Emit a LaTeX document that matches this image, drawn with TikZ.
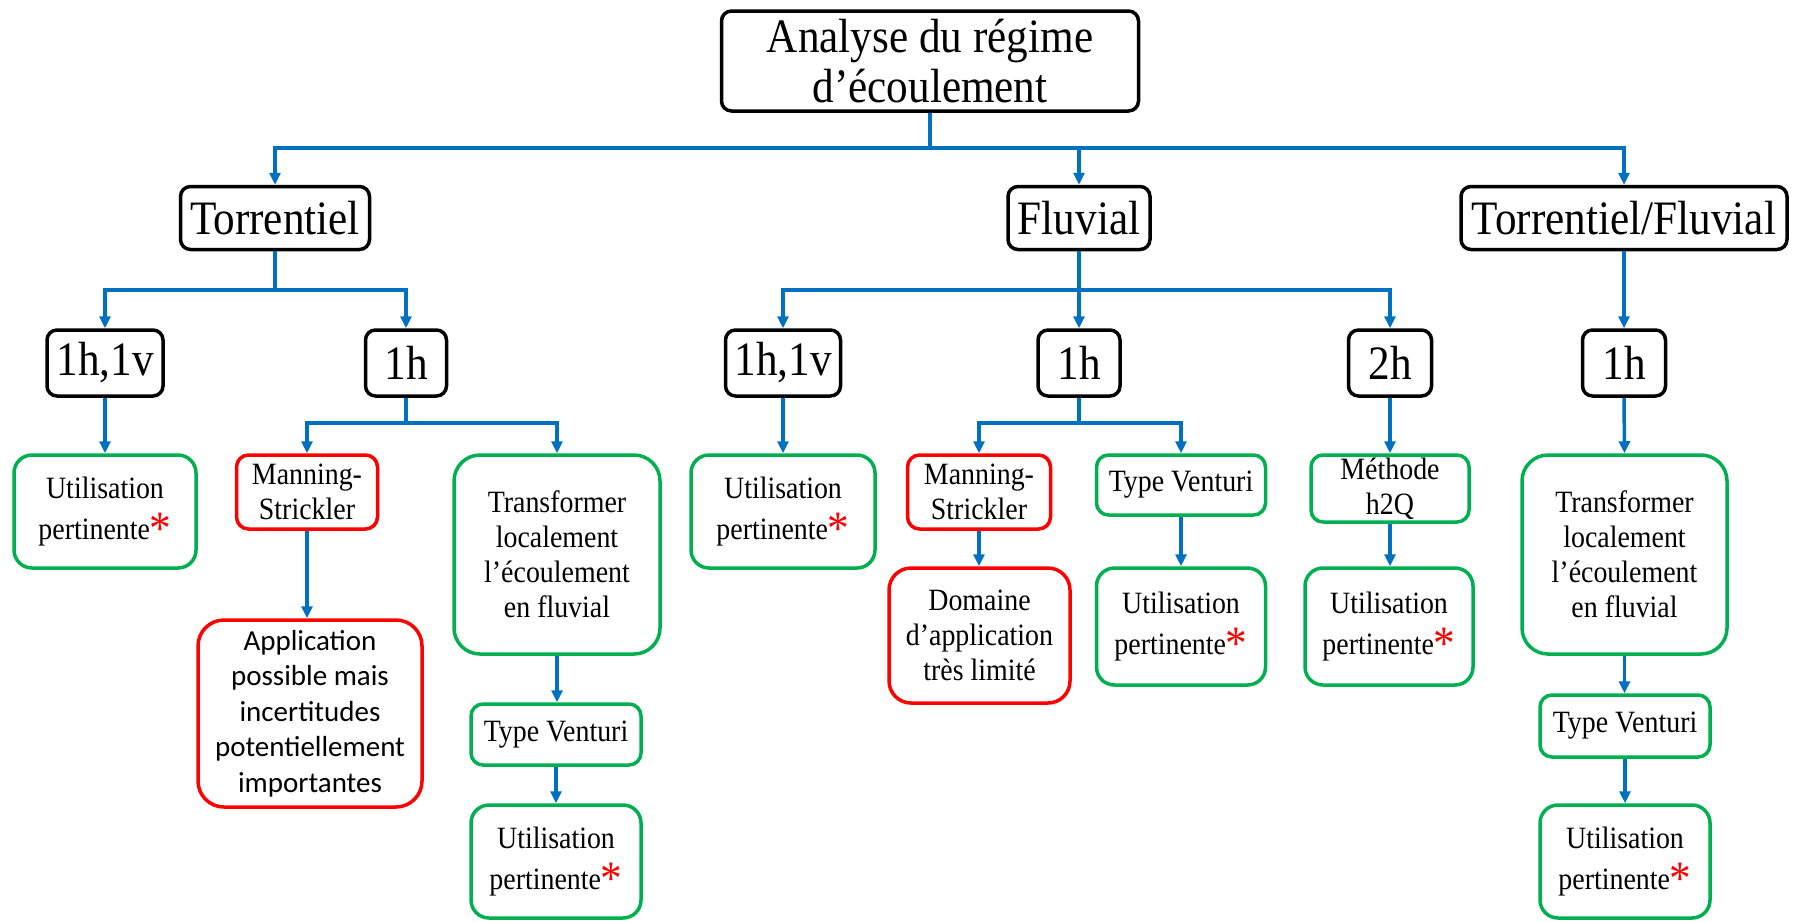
\documentclass[tikz,border=0pt]{standalone}
\usepackage{fontspec}
\setmainfont{Liberation Serif}[FakeStretch=0.9]
\newfontfamily\sansfam{Carlito}
\usetikzlibrary{arrows.meta}
\definecolor{linkblue}{HTML}{0070C0}
\definecolor{okgreen}{HTML}{00B050}
\definecolor{badred}{HTML}{FF0000}
\newcommand\bigtxt{\fontsize{48}{50}\selectfont}
\newcommand\midtxt{\fontsize{31}{35}\selectfont}
\newcommand\utiltxt{\fontsize{31}{41}\selectfont}
\newcommand\calitxt{\sansfam\fontsize{29}{35.5}\selectfont}
\newcommand\redstar{\textcolor{badred}{\fontsize{48}{48}\selectfont\raisebox{-5pt}{*}}}
\newcommand\pertinent{Utilisation\\pertinente\redstar}
\tikzset{
  box/.style={line width=3.5pt, rounded corners=10pt, inner sep=0pt, align=center},
  headbox/.style={box, draw=black, font=\bigtxt},
  goodbox/.style={box, draw=okgreen, rounded corners=18pt, font=\midtxt},
  badbox/.style={box, draw=badred, rounded corners=18pt, font=\midtxt},
  usebox/.style={goodbox, font=\utiltxt},
  link/.style={draw=linkblue, line width=3.5pt, -{Triangle[length=12pt,width=11pt]}}
}
\begin{document}
\begin{tikzpicture}[x=1pt,y=-1pt]
\fill[white] (0,0) rectangle (1798,921);
\useasboundingbox (0,0) rectangle (1798,921);

% bus levels of the tree
\coordinate (bus0) at (0,148);
\coordinate (bus1) at (0,290);
\coordinate (bus2) at (0,423);

% root
\node[headbox, minimum width=417pt, minimum height=100pt] (root) at (930,61)
  {Analyse du régime\\d’écoulement};

% flow regimes
\node[headbox, minimum width=189pt, minimum height=63pt] (tor) at (275,218) {Torrentiel};
\node[headbox, minimum width=142pt, minimum height=63pt] (flu) at (1079,218) {Fluvial};
\node[headbox, minimum width=326pt, minimum height=63pt] (tf)  at (1624,218) {Torrentiel/Fluvial};

% measurement configurations
\node[headbox, minimum width=116pt, minimum height=66pt] (t1) at (105,363) {1h,1v};
\node[headbox, minimum width=81pt,  minimum height=66pt] (t2) at (406,363) {1h};
\node[headbox, minimum width=115pt, minimum height=66pt] (f1) at (783,363) {1h,1v};
\node[headbox, minimum width=82pt,  minimum height=66pt] (f2) at (1079,363) {1h};
\node[headbox, minimum width=83pt,  minimum height=66pt] (f3) at (1390,363) {2h};
\node[headbox, minimum width=83pt,  minimum height=66pt] (m1) at (1624,363) {1h};

% torrential branch
\node[usebox, minimum width=182pt, minimum height=113pt] (t1u) at (105,511.5) {\pertinent};
\node[badbox, rounded corners=12pt, minimum width=141pt, minimum height=74pt] (t2ms) at (307,492) {Manning-\\Strickler};
\node[badbox, rounded corners=26pt, font=\calitxt, minimum width=224pt, minimum height=187pt] (t2app) at (310,713.5)
  {Application\\possible mais\\incertitudes\\potentiellement\\importantes};
\node[goodbox, rounded corners=26pt, minimum width=206pt, minimum height=199pt] (t2tr) at (557,554.5)
  {Transformer\\localement\\l’écoulement\\en fluvial};
\node[goodbox, rounded corners=12pt, minimum width=170pt, minimum height=61pt] (t2tv) at (556,734.5) {Type Venturi};
\node[usebox, minimum width=170pt, minimum height=113pt] (t2u) at (556,861.5) {\pertinent};

% fluvial branch
\node[usebox, minimum width=184pt, minimum height=113pt] (f1u) at (783,511.5) {\pertinent};
\node[badbox, rounded corners=12pt, minimum width=143pt, minimum height=74pt] (f2ms) at (979,492) {Manning-\\Strickler};
\node[badbox, rounded corners=22pt, minimum width=181pt, minimum height=135pt] (f2dom) at (979.5,635.5)
  {Domaine\\d’application\\très limité};
\node[goodbox, rounded corners=12pt, minimum width=169pt, minimum height=60pt] (f2tv) at (1181,485) {Type Venturi};
\node[usebox, minimum width=169pt, minimum height=117pt] (f2u) at (1181,626.5) {\pertinent};
\node[goodbox, rounded corners=12pt, minimum width=158pt, minimum height=67pt] (f3h) at (1390,488.5) {Méthode\\h2Q};
\node[usebox, minimum width=168pt, minimum height=117pt] (f3u) at (1389,626.5) {\pertinent};

% mixed branch
\node[goodbox, rounded corners=26pt, minimum width=205pt, minimum height=199pt] (m1tr) at (1624.5,554.5)
  {Transformer\\localement\\l’écoulement\\en fluvial};
\node[goodbox, rounded corners=12pt, minimum width=170pt, minimum height=62pt] (m1tv) at (1625,726) {Type Venturi};
\node[usebox, minimum width=170pt, minimum height=113pt] (m1u) at (1625,861.5) {\pertinent};

% connectors
\foreach \c in {tor,flu,tf}
  \draw[link] (root.south) -- (root.south |- bus0) -| (\c.north);
\foreach \c in {t1,t2}
  \draw[link] (tor.south) -- (tor.south |- bus1) -| (\c.north);
\foreach \c in {f1,f2,f3}
  \draw[link] (flu.south) -- (flu.south |- bus1) -| (\c.north);
\draw[link] (tf.south) -- (m1.north);
\draw[link] (t1.south) -- (t1u.north);
\foreach \c in {t2ms,t2tr}
  \draw[link] (t2.south) -- (t2.south |- bus2) -| (\c.north);
\draw[link] (t2ms.south) -- (t2ms.south |- t2app.north);
\draw[link] (t2tr.south) -- (t2tr.south |- t2tv.north);
\draw[link] (t2tv.south) -- (t2tv.south |- t2u.north);
\draw[link] (f1.south) -- (f1u.north);
\foreach \c in {f2ms,f2tv}
  \draw[link] (f2.south) -- (f2.south |- bus2) -| (\c.north);
\draw[link] (f2ms.south) -- (f2ms.south |- f2dom.north);
\draw[link] (f2tv.south) -- (f2tv.south |- f2u.north);
\draw[link] (f3.south) -- (f3h.north);
\draw[link] (f3h.south) -- (f3h.south |- f3u.north);
\draw[link] (m1.south) -- (m1tr.north);
\draw[link] (m1tr.south) -- (m1tr.south |- m1tv.north);
\draw[link] (m1tv.south) -- (m1tv.south |- m1u.north);
\end{tikzpicture}
\end{document}
